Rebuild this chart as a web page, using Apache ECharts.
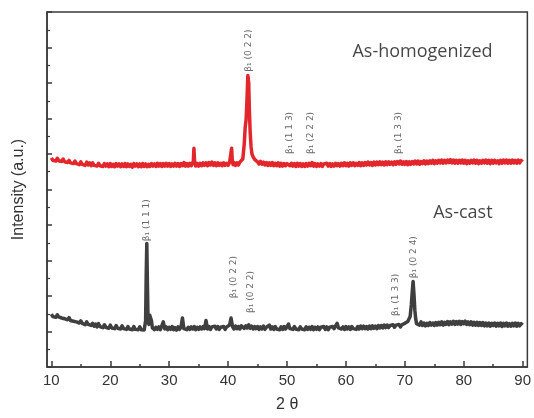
<!DOCTYPE html>
<html><head><meta charset="utf-8">
<script src="https://cdn.jsdelivr.net/npm/echarts@6/dist/echarts.min.js"></script>
<style>html,body{margin:0;padding:0;background:#fff}#c{width:534px;height:418px}</style>
</head><body><div id="c"></div>
<script>
// ---- data: [2θ, intensity] ----
const castData = [
[10,1.49],[10.25,1.42],[10.5,1.46],[10.75,1.40],[11,1.47],[11.25,1.41],[11.5,1.44],[11.75,1.38],
[12,1.43],[12.25,1.36],[12.5,1.40],[12.75,1.33],[13,1.39],[13.25,1.31],[13.5,1.36],[13.75,1.29],
[14,1.34],[14.25,1.27],[14.5,1.31],[14.75,1.24],[15,1.30],[15.25,1.23],[15.5,1.28],[15.75,1.19],
[16,1.27],[16.25,1.20],[16.5,1.24],[16.75,1.17],[17,1.23],[17.25,1.15],[17.5,1.21],[17.75,1.13],
[18,1.22],[18.25,1.14],[18.5,1.18],[18.75,1.11],[19,1.19],[19.25,1.12],[19.5,1.17],[19.75,1.09],
[20,1.18],[20.25,1.10],[20.5,1.15],[20.75,1.08],[21,1.17],[21.25,1.09],[21.5,1.14],[21.75,1.07],
[22,1.16],[22.25,1.08],[22.5,1.13],[22.75,1.06],[23,1.14],[23.25,1.07],[23.5,1.12],[23.75,1.05],
[24,1.14],[24.25,1.06],[24.5,1.11],[24.75,1.05],[25,1.13],[25.25,1.05],[25.5,1.10],[25.75,1.04],
[26.0,1.30],[26.1,2.6],[26.2,3.48],[26.3,2.4],[26.4,1.45],[26.55,1.20],[26.7,1.46],[26.85,1.48],
[27.0,1.30],[27.15,1.10],[27.25,1.14],[27.5,1.05],[27.75,1.12],
[28,1.06],[28.25,1.13],[28.5,1.05],[28.75,1.10],[29,1.27],[29.25,1.07],[29.5,1.13],[29.75,1.05],
[30,1.12],[30.25,1.06],[30.5,1.14],[30.75,1.05],[31,1.11],[31.25,1.04],[31.5,1.13],[31.75,1.06],
[32,1.12],[32.25,1.38],[32.5,1.08],[32.75,1.13],[33,1.05],[33.25,1.12],[33.5,1.06],[33.75,1.13],
[34,1.07],[34.25,1.14],[34.5,1.05],[34.75,1.12],[35,1.06],[35.25,1.13],[35.5,1.07],[35.75,1.14],
[36,1.08],[36.25,1.31],[36.5,1.07],[36.75,1.14],[37,1.06],[37.25,1.13],[37.5,1.08],[37.75,1.15],
[38,1.07],[38.25,1.14],[38.5,1.06],[38.75,1.12],[39,1.07],[39.25,1.14],[39.5,1.06],[39.75,1.13],
[40,1.08],[40.25,1.18],[40.5,1.38],[40.75,1.14],[41,1.07],[41.25,1.15],[41.5,1.08],[41.75,1.14],
[42,1.07],[42.25,1.16],[42.5,1.20],[42.75,1.09],[43,1.16],[43.25,1.10],[43.5,1.19],[43.75,1.09],
[44,1.15],[44.25,1.07],[44.5,1.14],[44.75,1.08],[45,1.14],[45.25,1.06],[45.5,1.13],[45.75,1.07],
[46,1.15],[46.25,1.06],[46.5,1.12],[46.75,1.08],[47,1.18],[47.25,1.07],[47.5,1.13],[47.75,1.06],
[48,1.14],[48.25,1.07],[48.5,1.12],[48.75,1.05],[49,1.13],[49.25,1.06],[49.5,1.14],[49.75,1.07],
[50,1.12],[50.25,1.21],[50.5,1.08],[50.75,1.13],[51,1.06],[51.25,1.14],[51.5,1.07],[51.75,1.12],
[52,1.05],[52.25,1.13],[52.5,1.07],[52.75,1.12],[53,1.05],[53.25,1.13],[53.5,1.06],[53.75,1.12],
[54,1.06],[54.25,1.14],[54.5,1.05],[54.75,1.12],[55,1.06],[55.25,1.13],[55.5,1.05],[55.75,1.12],
[56,1.07],[56.25,1.14],[56.5,1.06],[56.75,1.13],[57,1.05],[57.25,1.12],[57.5,1.07],[57.75,1.14],
[58,1.08],[58.25,1.16],[58.5,1.23],[58.75,1.10],[59,1.15],[59.25,1.07],[59.5,1.13],[59.75,1.06],
[60,1.14],[60.25,1.07],[60.5,1.13],[60.75,1.06],[61,1.14],[61.25,1.08],[61.5,1.13],[61.75,1.06],
[62,1.14],[62.25,1.07],[62.5,1.15],[62.75,1.08],[63,1.15],[63.25,1.08],[63.5,1.14],[63.75,1.07],
[64,1.15],[64.25,1.08],[64.5,1.16],[64.75,1.09],[65,1.15],[65.25,1.08],[65.5,1.17],[65.75,1.10],
[66,1.17],[66.25,1.10],[66.5,1.18],[66.75,1.11],[67,1.18],[67.25,1.11],[67.5,1.17],[67.75,1.12],
[68,1.19],[68.25,1.12],[68.5,1.18],[68.75,1.13],[69,1.20],[69.25,1.13],[69.5,1.19],[69.75,1.15],
[70,1.23],[70.25,1.20],[70.5,1.28],[70.75,1.25],[70.9,1.42],[71.1,1.75],[71.25,2.1],[71.4,2.41],
[71.55,2.05],[71.7,1.6],[71.85,1.35],[72.0,1.22],[72.25,1.26],[72.5,1.18],[72.75,1.27],
[73,1.17],[73.25,1.24],[73.5,1.16],[73.75,1.23],[74,1.17],[74.25,1.25],[74.5,1.18],[74.75,1.24],
[75,1.17],[75.25,1.25],[75.5,1.18],[75.75,1.26],[76,1.19],[76.25,1.27],[76.5,1.18],[76.75,1.26],
[77,1.20],[77.25,1.28],[77.5,1.19],[77.75,1.27],[78,1.21],[78.25,1.29],[78.5,1.20],[78.75,1.28],
[79,1.21],[79.25,1.29],[79.5,1.20],[79.75,1.28],[80,1.22],[80.25,1.29],[80.5,1.20],[80.75,1.27],
[81,1.19],[81.25,1.27],[81.5,1.18],[81.75,1.26],[82,1.18],[82.25,1.26],[82.5,1.17],[82.75,1.25],
[83,1.17],[83.25,1.25],[83.5,1.16],[83.75,1.24],[84,1.16],[84.25,1.24],[84.5,1.15],[84.75,1.23],
[85,1.17],[85.25,1.24],[85.5,1.15],[85.75,1.23],[86,1.16],[86.25,1.24],[86.5,1.14],[86.75,1.23],
[87,1.16],[87.25,1.24],[87.5,1.15],[87.75,1.22],[88,1.15],[88.25,1.23],[88.5,1.16],[88.75,1.24],
[89,1.15],[89.25,1.23],[89.5,1.16],[89.75,1.22],[90,1.18]
];
const homoData = [
[10,5.89],[10.25,5.82],[10.5,5.87],[10.75,5.80],[11,5.88],[11.25,5.81],[11.5,5.85],[11.75,5.79],
[12,5.86],[12.25,5.78],[12.5,5.83],[12.75,5.76],[13,5.82],[13.25,5.75],[13.5,5.80],[13.75,5.73],
[14,5.80],[14.25,5.73],[14.5,5.78],[14.75,5.70],[15,5.78],[15.25,5.71],[15.5,5.76],[15.75,5.68],
[16,5.77],[16.25,5.69],[16.5,5.75],[16.75,5.67],[17,5.75],[17.25,5.68],[17.5,5.73],[17.75,5.66],
[18,5.74],[18.25,5.67],[18.5,5.72],[18.75,5.65],[19,5.73],[19.25,5.66],[19.5,5.72],[19.75,5.64],
[20,5.73],[20.25,5.65],[20.5,5.71],[20.75,5.64],[21,5.73],[21.25,5.66],[21.5,5.72],[21.75,5.64],
[22,5.72],[22.25,5.65],[22.5,5.73],[22.75,5.64],[23,5.72],[23.25,5.65],[23.5,5.71],[23.75,5.63],
[24,5.73],[24.25,5.66],[24.5,5.72],[24.75,5.64],[25,5.72],[25.25,5.64],[25.5,5.73],[25.75,5.65],
[26,5.72],[26.25,5.64],[26.5,5.71],[26.75,5.65],[27,5.73],[27.25,5.66],[27.5,5.72],[27.75,5.65],
[28,5.74],[28.25,5.66],[28.5,5.73],[28.75,5.65],[29,5.73],[29.25,5.66],[29.5,5.74],[29.75,5.66],
[30,5.73],[30.25,5.65],[30.5,5.72],[30.75,5.66],[31,5.74],[31.25,5.66],[31.5,5.73],[31.75,5.65],
[32,5.73],[32.25,5.67],[32.5,5.76],[32.75,5.66],[33,5.73],[33.25,5.66],[33.5,5.74],[33.75,5.67],
[34,5.72],[34.1,5.80],[34.2,6.16],[34.3,5.82],[34.5,5.66],[34.75,5.73],
[35,5.66],[35.25,5.74],[35.5,5.67],[35.75,5.75],[36,5.68],[36.25,5.75],[36.5,5.67],[36.75,5.76],
[37,5.69],[37.25,5.77],[37.5,5.68],[37.75,5.75],[38,5.67],[38.25,5.75],[38.5,5.68],[38.75,5.74],
[39,5.67],[39.25,5.75],[39.5,5.68],[39.75,5.74],[40,5.68],[40.25,5.76],[40.5,5.80],[40.6,6.16],
[40.7,5.85],[40.85,5.70],[41,5.76],[41.25,5.68],[41.5,5.75],[41.75,5.69],[42,5.77],[42.25,5.72],
[42.5,5.86],[42.75,6.3],[42.9,6.75],[43.05,6.95],[43.2,7.5],[43.35,8.21],[43.5,8.0],[43.6,7.3],
[43.75,6.6],[43.9,6.2],[44.05,6.0],[44.25,5.92],[44.5,5.85],[44.75,5.80],
[45,5.78],[45.25,5.72],[45.5,5.79],[45.75,5.71],[46,5.77],[46.25,5.69],[46.5,5.76],[46.75,5.68],
[47,5.75],[47.25,5.68],[47.5,5.76],[47.75,5.67],[48,5.74],[48.25,5.67],[48.5,5.75],[48.75,5.66],
[49,5.74],[49.25,5.66],[49.5,5.73],[49.75,5.67],[50,5.73],[50.25,5.78],[50.5,5.67],[50.75,5.74],
[51,5.66],[51.25,5.73],[51.5,5.65],[51.75,5.74],[52,5.66],[52.25,5.73],[52.5,5.65],[52.75,5.72],
[53,5.65],[53.25,5.73],[53.5,5.66],[53.75,5.74],[54,5.67],[54.25,5.76],[54.5,5.66],[54.75,5.73],
[55,5.65],[55.25,5.72],[55.5,5.66],[55.75,5.73],[56,5.65],[56.25,5.72],[56.5,5.67],[56.75,5.74],
[57,5.66],[57.25,5.73],[57.5,5.65],[57.75,5.72],[58,5.66],[58.25,5.74],[58.5,5.67],[58.75,5.73],
[59,5.66],[59.25,5.74],[59.5,5.67],[59.75,5.75],[60,5.67],[60.25,5.74],[60.5,5.66],[60.75,5.75],
[61,5.68],[61.25,5.75],[61.5,5.67],[61.75,5.74],[62,5.68],[62.25,5.76],[62.5,5.67],[62.75,5.75],
[63,5.68],[63.25,5.76],[63.5,5.69],[63.75,5.77],[64,5.69],[64.25,5.76],[64.5,5.68],[64.75,5.77],
[65,5.69],[65.25,5.77],[65.5,5.70],[65.75,5.78],[66,5.70],[66.25,5.77],[66.5,5.69],[66.75,5.78],
[67,5.70],[67.25,5.78],[67.5,5.71],[67.75,5.77],[68,5.70],[68.25,5.78],[68.5,5.71],[68.75,5.79],
[69,5.72],[69.25,5.80],[69.5,5.71],[69.75,5.78],[70,5.71],[70.25,5.79],[70.5,5.70],[70.75,5.78],
[71,5.71],[71.25,5.79],[71.5,5.72],[71.75,5.80],[72,5.72],[72.25,5.80],[72.5,5.71],[72.75,5.79],
[73,5.73],[73.25,5.81],[73.5,5.72],[73.75,5.80],[74,5.73],[74.25,5.81],[74.5,5.74],[74.75,5.82],
[75,5.73],[75.25,5.81],[75.5,5.74],[75.75,5.82],[76,5.75],[76.25,5.83],[76.5,5.74],[76.75,5.82],
[77,5.75],[77.25,5.83],[77.5,5.76],[77.75,5.84],[78,5.75],[78.25,5.83],[78.5,5.74],[78.75,5.82],
[79,5.74],[79.25,5.82],[79.5,5.75],[79.75,5.83],[80,5.74],[80.25,5.82],[80.5,5.73],[80.75,5.81],
[81,5.74],[81.25,5.82],[81.5,5.75],[81.75,5.83],[82,5.74],[82.25,5.82],[82.5,5.73],[82.75,5.81],
[83,5.74],[83.25,5.82],[83.5,5.75],[83.75,5.83],[84,5.74],[84.25,5.82],[84.5,5.73],[84.75,5.82],
[85,5.74],[85.25,5.82],[85.5,5.75],[85.75,5.81],[86,5.73],[86.25,5.82],[86.5,5.74],[86.75,5.83],
[87,5.75],[87.25,5.83],[87.5,5.74],[87.75,5.82],[88,5.74],[88.25,5.83],[88.5,5.75],[88.75,5.82],
[89,5.74],[89.25,5.83],[89.5,5.75],[89.75,5.82],[90,5.78]
];
// peak labels: [2θ, label base height, text]
const peakLabels = [
[43.45,8.32,'β₁ (0 2 2)'],[50.5,6.0,'β₁ (1 1 3)'],[54.0,6.0,'β₁ (2 2 2)'],[69.0,6.0,'β₁ (1 3 3)'],
[26.25,3.54,'β₁ (1 1 1)'],[41.0,1.94,'β₁ (0 2 2)'],[43.9,1.52,'β₁ (0 2 2)'],[68.5,1.44,'β₁ (1 3 3)'],[71.5,2.5,'β₁ (0 2 4)']
];
const sampleLabels = [[84.9,8.89,'As-homogenized'],[84.9,4.33,'As-cast']];
const xMajorTicks = [10,20,30,40,50,60,70,80,90];
const xMinorTicks = [15,25,35,45,55,65,75,85];
const xRange = [9.26, 90.8];
const yRange = [0, 10];

const axisColor = '#3a3a3a';
const chart = echarts.init(document.getElementById('c'), null, {renderer:'canvas'});
chart.setOption({
  animation:false,
  backgroundColor:'#fff',
  grid:{left:47, top:12, right:2.5, bottom:49, show:true, borderColor:axisColor, borderWidth:1.5, backgroundColor:'transparent'},
  xAxis:[{
    type:'value', min:xRange[0], max:xRange[1], gridIndex:0,
    name:'2 θ', nameLocation:'middle', nameGap:30,
    nameTextStyle:{fontFamily:'Liberation Sans, Arial, sans-serif', fontSize:16, color:'#333'},
    axisLine:{show:true, lineStyle:{color:axisColor, width:1.5}},
    axisTick:{show:true, inside:true, length:6, customValues:xMajorTicks, lineStyle:{color:axisColor, width:1.5}},
    axisLabel:{show:true, customValues:xMajorTicks, margin:6, fontFamily:'Liberation Sans, Arial, sans-serif', fontSize:15, color:'#333'},
    splitLine:{show:false}
  },{
    type:'value', min:xRange[0], max:xRange[1], gridIndex:0, position:'bottom',
    axisLine:{show:false},
    axisTick:{show:true, inside:true, length:3, customValues:xMinorTicks, lineStyle:{color:axisColor, width:1.5}},
    axisLabel:{show:false}, splitLine:{show:false}
  }],
  yAxis:{
    type:'value', min:yRange[0], max:yRange[1], interval:1,
    name:'Intensity (a.u.)', nameLocation:'middle', nameGap:20,
    nameTextStyle:{fontFamily:'Liberation Sans, Arial, sans-serif', fontSize:16, color:'#333'},
    axisLine:{show:true, lineStyle:{color:axisColor, width:1.5}},
    axisTick:{show:true, inside:true, length:5, lineStyle:{color:axisColor, width:1.5}},
    minorTick:{show:true, splitNumber:2, length:3, lineStyle:{color:axisColor, width:1.2}},
    axisLabel:{show:false}, splitLine:{show:false}
  },
  series:[
    {type:'line', name:'As-homogenized', data:homoData, showSymbol:false, symbol:'none',
     lineStyle:{color:'#e2262b', width:3.5, join:'round'}, z:3},
    {type:'line', name:'As-cast', data:castData, showSymbol:false, symbol:'none',
     lineStyle:{color:'#3f3f3f', width:3.5, join:'round'}, z:3},
    {type:'scatter', data:peakLabels.map(p=>[p[0],p[1],p[2]]), symbolSize:0, silent:true, z:5,
     label:{show:true, position:[0,0], rotate:90, align:'left', verticalAlign:'middle',
       formatter:p=>p.data[2], fontFamily:'DejaVu Sans, sans-serif', fontSize:9, color:'#444'}},
    {type:'scatter', data:sampleLabels.map(p=>[p[0],p[1],p[2]]), symbolSize:0, silent:true, z:5,
     label:{show:true, position:[0,0], align:'right', verticalAlign:'middle',
       formatter:p=>p.data[2], fontFamily:'Open Sans, sans-serif', fontSize:18, color:'#151515'}}
  ]
});
</script></body></html>
